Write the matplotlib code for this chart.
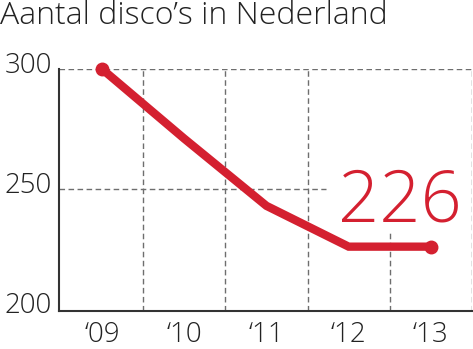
import matplotlib.pyplot as plt
import matplotlib.transforms as mtransforms

years = [2009, 2010, 2011, 2012, 2013]
discos = [300, 271, 243, 226, 226]
xlabels = ["\u201809", "\u201810", "\u201811", "\u201812", "\u201813"]
yticks = [200, 250, 300]
title = "Aantal disco\u2019s in Nederland"

red = "#d42030"
grid_col = "#6e6e6e"
font = "Open Sans"
fw = 300

fig = plt.figure(figsize=(4.73, 3.49), dpi=100)
ax = fig.add_axes([59 / 473, 38 / 349, (472 - 59) / 473, (311 - 69) / 349])

ax.set_xlim(2008.477, 2013.5)
ax.set_ylim(199.2, 300)

# dashed grid, cut away around the big number
dash = dict(color=grid_col, lw=1.0, ls=(0, (4, 2.5)), zorder=1)
ax.axhline(300, **dash)
ax.axhline(250, xmax=(326 - 59) / (472 - 59), **dash)
for x in [2009.5, 2010.5, 2011.5, 2013.5]:
    ax.axvline(x, **dash)
ax.axvline(2012.5, ymax=(311 - 233) / (311 - 69), **dash)

ax.plot(years, discos, color=red, lw=6, solid_capstyle="butt",
        solid_joinstyle="miter", zorder=3, clip_on=False)
ax.plot([years[0], years[-1]], [discos[0], discos[-1]], "o", color=red,
        ms=9, zorder=4, clip_on=False)

ax.text(2013.38, 236.3, str(discos[-1]), color=red, fontsize=52,
        family=font, weight=fw, ha="right", va="baseline")

for s in ["top", "right"]:
    ax.spines[s].set_visible(False)
for s in ["left", "bottom"]:
    ax.spines[s].set_color("#333333")
    ax.spines[s].set_linewidth(1.5)

ax.set_xticks(years)
ax.set_xticklabels(xlabels)
ax.set_yticks(yticks)
ax.tick_params(length=0, labelsize=20, colors="#222222")
ax.tick_params(axis="x", pad=7)
ax.tick_params(axis="y", pad=5)
for lab in ax.get_xticklabels() + ax.get_yticklabels():
    lab.set_family(font)
    lab.set_weight(fw)
off = mtransforms.ScaledTranslation(0, 5 / 72, fig.dpi_scale_trans)
for lab in ax.get_yticklabels():
    lab.set_transform(lab.get_transform() + off)

fig.text(0.0, 0.955, title, fontsize=23, family=font, weight=fw,
         color="#222222", ha="left", va="center")

fig.savefig("out.png", dpi=100)
